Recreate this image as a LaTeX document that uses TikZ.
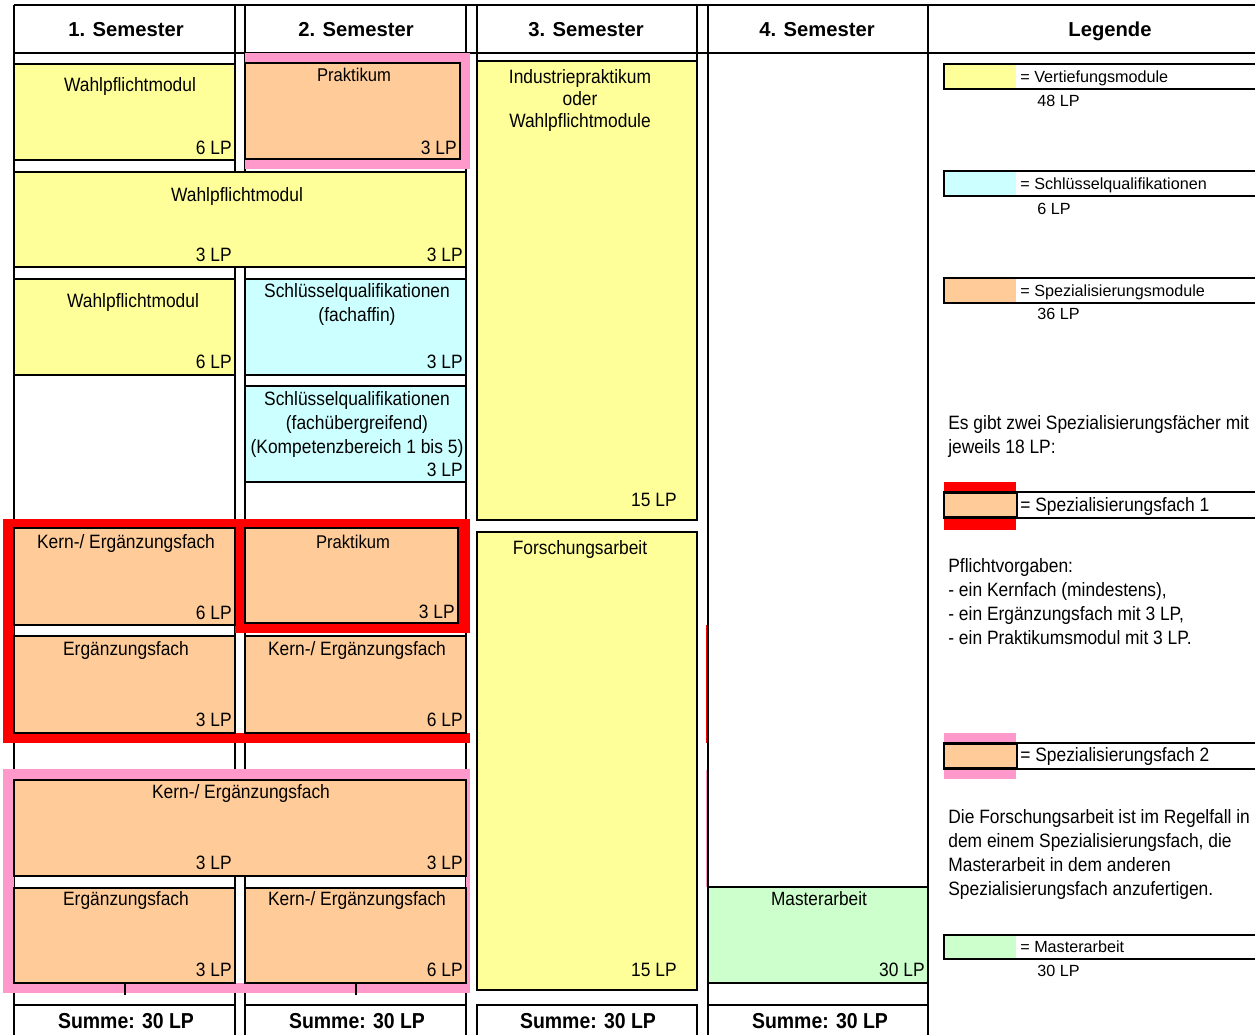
\documentclass[tikz,border=0pt]{standalone}
\usepackage{fontspec}
\setmainfont{Liberation Sans}
\newfontfamily\schmal[FakeStretch=0.9]{Liberation Sans}
\definecolor{vert}{HTML}{FFFF99}
\definecolor{spez}{HTML}{FFCC99}
\definecolor{schl}{HTML}{CCFFFF}
\definecolor{mast}{HTML}{CCFFCC}
\definecolor{fachzwei}{HTML}{FF99CC}
\tikzset{
  modul/.style={draw=black,line width=1.1pt},
  spalte/.style={draw=black,line width=0.8pt},
  txt/.style={inner sep=0pt,anchor=mid,yshift=-1.2pt,font=\schmal\fontsize{11}{13.6}\selectfont},
  klein/.style={inner sep=0pt,anchor=mid,yshift=-1.2pt,font=\schmal\fontsize{10.5}{12}\selectfont},
  lp/.style={inner sep=0pt,anchor=mid east,yshift=-1.2pt,font=\schmal\fontsize{11}{12}\selectfont},
  kopf/.style={inner sep=0pt,anchor=mid,yshift=-1.5pt,font=\fontsize{11.5}{14}\selectfont\bfseries},
  summe/.style={inner sep=0pt,anchor=mid,yshift=-1.5pt,font=\schmal\fontsize{12.3}{14}\selectfont\bfseries},
  leg/.style={inner sep=0pt,anchor=mid west,yshift=-1pt,font=\fontsize{9.2}{11}\selectfont},
  absatz/.style={inner sep=0pt,anchor=north west,align=left,font=\schmal\fontsize{11}{13.6}\selectfont},
}
\begin{document}
\begin{tikzpicture}[x=0.02cm,y=-0.02cm]
\useasboundingbox (0,0) rectangle (1255,1035);
%columns
\draw[spalte](14,5)--(1256,5);
\draw[spalte](14,53)--(1256,53);
\foreach \x in {14,235,245,466,708,928} \draw[spalte](\x,5)--(\x,1036);
\foreach \x in {477,697} \draw[spalte](\x,5)--(\x,61);
\draw[red,line width=0.7pt](706.5,625)--(706.5,743);
\draw[fachzwei,line width=0.7pt](706.5,770)--(706.5,887);
%Spezialisierungsfach 1
\fill[red](3,519) rectangle (470,528);
\fill[red](3,519) rectangle (14,743);
\fill[red](3,733) rectangle (470,743);
\fill[red](235,519) rectangle (245,633);
\fill[red](458,519) rectangle (470,633);
\fill[red](235,623) rectangle (470,633);
%Spezialisierungsfach 2
\fill[fachzwei](245,53) rectangle (470,63);
\fill[fachzwei](460,53) rectangle (470,169);
\fill[fachzwei](245,159) rectangle (470,169);
\fill[fachzwei](3,769) rectangle (470,780);
\fill[fachzwei](3,769) rectangle (14,993);
\fill[fachzwei](3,983) rectangle (470,993);
\fill[fachzwei](466,769) rectangle (470,993);
%header
\node[kopf](sem1) at (126,29){1. Semester};
\node[kopf](sem2) at (356,29){2. Semester};
\node[kopf](sem3) at (586,29){3. Semester};
\node[kopf](sem4) at (817,29){4. Semester};
\node[kopf](legende) at (1110,29){Legende};
%1. and 2. semester
\draw[modul,fill=vert](14,64) rectangle (235,160);
\node[txt](wp1) at (130,85){Wahlpflichtmodul};
\node[lp](wp1lp) at (232,148){6 LP};
\draw[modul,fill=spez](245,63) rectangle (460,159);
\node[klein](prak1) at (354,75){Praktikum};
\node[lp](prak1lp) at (457,148){3 LP};
\draw[modul,fill=vert](14,172) rectangle (466,267);
\node[txt](wp2) at (237,195){Wahlpflichtmodul};
\node[lp](wp2lpa) at (232,255){3 LP};
\node[lp](wp2lpb) at (463,255){3 LP};
\draw[modul,fill=vert](14,279) rectangle (235,375);
\node[txt](wp3) at (133,301){Wahlpflichtmodul};
\node[lp](wp3lp) at (232,362){6 LP};
\draw[modul,fill=schl](245,279) rectangle (466,375);
\node[txt,anchor=north,align=center,yshift=1.2pt](sq1) at (357,283.5){Schlüsselqualifikationen\\(fachaffin)};
\node[lp](sq1lp) at (463,362){3 LP};
\draw[modul,fill=schl](245,386) rectangle (466,482);
\node[txt,anchor=north,align=center,yshift=1.2pt](sq2) at (357,391.5){Schlüsselqualifikationen\\(fachübergreifend)\\(Kompetenzbereich 1 bis 5)};
\node[lp](sq2lp) at (463,470){3 LP};
%
\draw[modul,fill=spez](14,528) rectangle (235,625);
\node[txt](ke1) at (126,542){Kern-/ Ergänzungsfach};
\node[lp](ke1lp) at (232,613){6 LP};
\draw[modul,fill=spez](245,528) rectangle (458,623);
\node[klein](prak2) at (353,542){Praktikum};
\node[lp](prak2lp) at (455,612){3 LP};
\draw[modul,fill=spez](14,636) rectangle (235,733);
\node[txt](erg1) at (126,649){Ergänzungsfach};
\node[lp](erg1lp) at (232,720){3 LP};
\draw[modul,fill=spez](245,636) rectangle (466,733);
\node[txt](ke2) at (357,649){Kern-/ Ergänzungsfach};
\node[lp](ke2lp) at (463,720){6 LP};
%
\draw[modul,fill=spez](14,780) rectangle (466,876);
\node[txt](ke3) at (241,792){Kern-/ Ergänzungsfach};
\node[lp](ke3lpa) at (232,863){3 LP};
\node[lp](ke3lpb) at (463,863){3 LP};
\draw[modul,fill=spez](14,888) rectangle (235,983);
\node[txt](erg2) at (126,899){Ergänzungsfach};
\node[lp](erg2lp) at (232,970){3 LP};
\draw[modul,fill=spez](245,888) rectangle (466,983);
\node[txt](ke4) at (357,899){Kern-/ Ergänzungsfach};
\node[lp](ke4lp) at (463,970){6 LP};
\draw[spalte](125,983)--(125,995);
\draw[spalte](356,983)--(356,995);
%3. and 4. semester
\draw[modul,fill=vert](477,61) rectangle (697,520);
\node[txt,anchor=north,align=center,yshift=1.2pt,font=\schmal\fontsize{11}{12.5}\selectfont](ind) at (580,69.5){Industriepraktikum\\oder\\Wahlpflichtmodule};
\node[lp](indlp) at (677,500){15 LP};
\draw[modul,fill=vert](477,532) rectangle (697,990);
\node[txt](fa) at (580,548){Forschungsarbeit};
\node[lp](falp) at (677,970){15 LP};
\draw[modul,fill=mast](708,887) rectangle (928,983);
\node[klein,font=\schmal\fontsize{10.9}{12}\selectfont](ma) at (819,899){Masterarbeit};
\node[lp](malp) at (925,970){30 LP};
%Summe
\foreach \a/\b in {14/235,245/466,477/697,708/928}
  \draw[modul](\a,1036)--(\a,1005)--(\b,1005)--(\b,1036);
\node[summe](sum1) at (126,1021){Summe: 30 LP};
\node[summe](sum2) at (357,1021){Summe: 30 LP};
\node[summe](sum3) at (588,1021){Summe: 30 LP};
\node[summe](sum4) at (820,1021){Summe: 30 LP};
%legend
\fill[vert](944,64) rectangle (1016,89);
\draw[modul](1256,64)--(944,64)--(944,89)--(1256,89);
\node[leg](lvert) at (1020,76){= Vertiefungsmodule};
\node[leg](lvertlp) at (1037,100){48 LP};
\fill[schl](944,171) rectangle (1016,196);
\draw[modul](1256,171)--(944,171)--(944,196)--(1256,196);
\node[leg](lschl) at (1020,183){= Schlüsselqualifikationen};
\node[leg](lschllp) at (1037,208){6 LP};
\fill[spez](944,278) rectangle (1016,303);
\draw[modul](1256,278)--(944,278)--(944,303)--(1256,303);
\node[leg](lspez) at (1020,290){= Spezialisierungsmodule};
\node[leg](lspezlp) at (1037,313){36 LP};
\node[absatz](zwei) at (948,415.5){Es gibt zwei Spezialisierungsfächer mit\\jeweils 18 LP:};
%
\fill[red](944,482) rectangle (1016,530);
\draw[modul](1256,492)--(944,492)--(944,518)--(1256,518);
\draw[modul,fill=spez](944,493) rectangle (1017,517);
\node[leg,font=\schmal\fontsize{11}{12}\selectfont](lfach1) at (1020,505){= Spezialisierungsfach 1};
\node[absatz](pflicht) at (948,558.5){Pflichtvorgaben:\\- ein Kernfach (mindestens),\\- ein Ergänzungsfach mit 3 LP,\\- ein Praktikumsmodul mit 3 LP.};
%
\fill[fachzwei](944,733) rectangle (1016,779);
\draw[modul](1256,743)--(944,743)--(944,769)--(1256,769);
\draw[modul,fill=spez](944,744) rectangle (1017,768);
\node[leg,font=\schmal\fontsize{11}{12}\selectfont](lfach2) at (1020,755){= Spezialisierungsfach 2};
\node[absatz](regel) at (948,809.5){Die Forschungsarbeit ist im Regelfall in\\dem einem Spezialisierungsfach, die\\Masterarbeit in dem anderen\\Spezialisierungsfach anzufertigen.};
%
\fill[mast](944,935) rectangle (1016,959);
\draw[modul](1256,935)--(944,935)--(944,959)--(1256,959);
\node[leg](lmast) at (1020,946){= Masterarbeit};
\node[leg](lmastlp) at (1037,970){30 LP};
\end{tikzpicture}
\end{document}
